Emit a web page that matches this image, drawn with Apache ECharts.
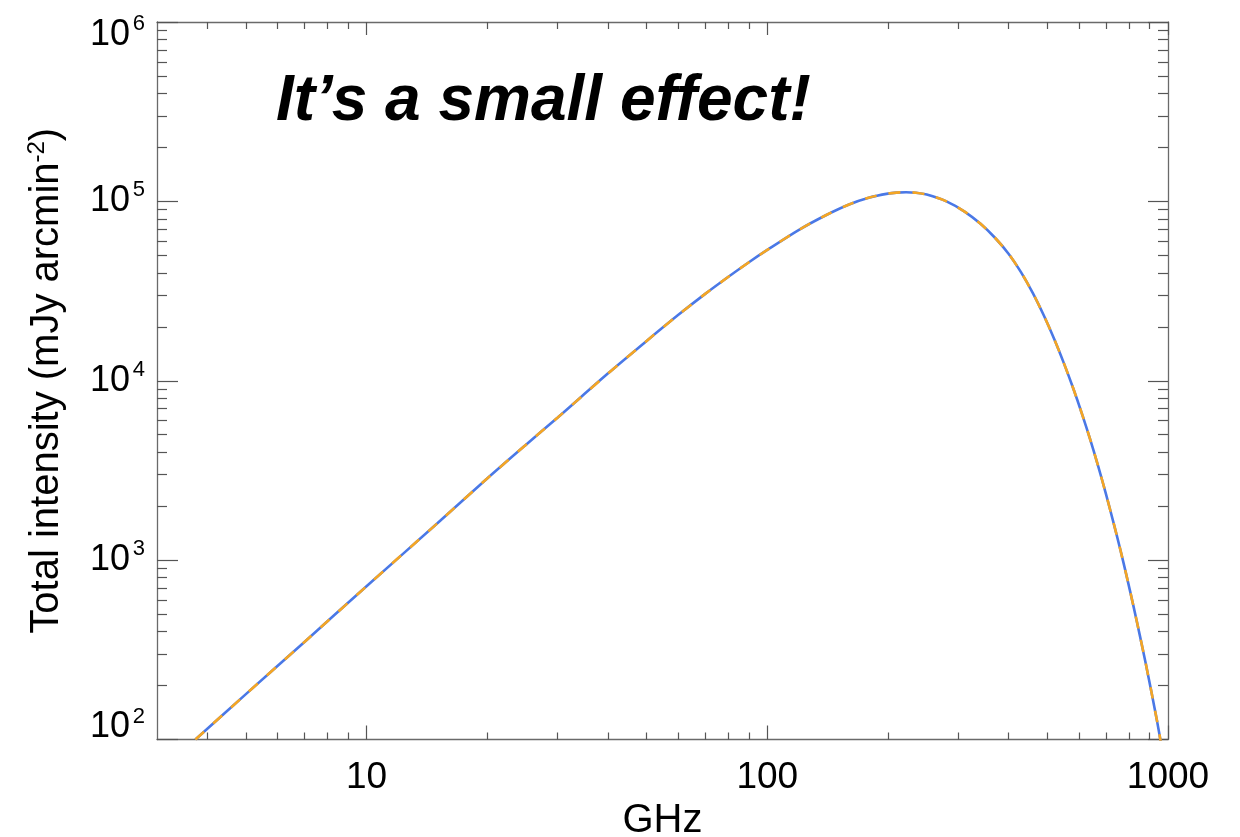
<!DOCTYPE html>
<html>
<head>
<meta charset="utf-8">
<script src="https://cdn.jsdelivr.net/npm/echarts@6/dist/echarts.min.js"></script>
<style>
html,body{margin:0;padding:0;background:#fff;overflow:hidden;}
#chart{width:1240px;height:837px;}
</style>
</head>
<body>
<div id="chart"></div>
<script>
// ---- data ----
const freqGHz = [3.74, 5, 7, 10, 15, 20, 25, 30, 40, 50, 60, 70, 80, 90, 100, 120, 140, 160, 180, 200, 210, 222, 235, 250,
  280, 310, 340, 370, 400, 430, 460, 490, 520, 550, 580, 610, 640, 670, 700, 730, 760, 790, 820, 850, 880, 910, 940, 960];
const intensityCMB = [100, 179, 350, 715, 1600, 2850, 4400, 6240, 10960, 16670, 23300, 30500, 38000, 45800, 53600, 69400, 83700, 96100, 105100, 110500, 111900, 112500, 111800, 109100,
  100000, 88000, 75200, 62700, 51100, 40200, 30800, 23100, 17100, 12500, 9080, 6540, 4680, 3320, 2340, 1640, 1150, 799, 554, 383, 265, 182, 125, 96];
const intensityCMBSZ = [100, 179, 350, 715, 1600, 2850, 4400, 6240, 10960, 16670, 23300, 30500, 38000, 45800, 53600, 69400, 83700, 96100, 105100, 110500, 111900, 112500, 111800, 109100,
  100000, 88000, 75200, 62700, 51100, 40200, 30800, 23100, 17100, 12500, 9080, 6540, 4680, 3320, 2340, 1640, 1150, 799, 554, 383, 265, 182, 125, 96];

const xMin = 3, xMax = 1000;
const yMin = 100, yMax = 1e6;
const xMajorTicks = [10, 100, 1000];
const xMinorTicks = [4,5,6,7,8,9, 20,30,40,50,60,70,80,90, 200,300,400,500,600,700,800,900];
const yMajorTicks = [100, 1000, 10000, 100000, 1000000];
const yMinorTicks = [200,300,400,500,600,700,800,900, 2000,3000,4000,5000,6000,7000,8000,9000,
  20000,30000,40000,50000,60000,70000,80000,90000, 200000,300000,400000,500000,600000,700000,800000,900000];

const titleText = 'It\u2019s a small effect!';
const xName = 'GHz';
const yName = 'Total intensity (mJy arcmin{s|-2})';

// ---- chart ----
const FONT = '"Liberation Sans", Arial, Helvetica, sans-serif';
const AX = '#6a6a6a';
const TK = '#555555';
const lg = Math.log10;

function tickAxis(kind, pos, ticks, len, showLine) {
  const isX = kind === 'x';
  return {
    type: 'value', gridIndex: 0, position: pos,
    min: isX ? lg(xMin) : lg(yMin), max: isX ? lg(xMax) : lg(yMax),
    axisLine: {show: showLine, onZero: false, lineStyle: {color: AX, width: 1.3}},
    axisLabel: {show: false},
    splitLine: {show: false},
    axisTick: {show: true, inside: true, length: len, customValues: ticks.map(lg),
      lineStyle: {color: TK, width: 1.2}},
    silent: true
  };
}
function yLabelAxis(margin, formatter, rich) {
  return {
    type: 'value', gridIndex: 0, position: 'left', min: lg(yMin), max: lg(yMax),
    axisLine: {show: false}, axisTick: {show: false}, splitLine: {show: false},
    axisLabel: {show: true, customValues: yMajorTicks.map(lg), margin: margin, verticalAlign: 'middle',
      formatter: formatter, rich: rich},
    silent: true
  };
}
// base "10" of each power label (end labels nudged inward as in the reference)
const baseStyle = {fontFamily: FONT, fontSize: 36, lineHeight: 36, color: '#000'};
const richBase = {
  b2: Object.assign({padding: [0, 0, 24, 0]}, baseStyle),
  b3: Object.assign({}, baseStyle), b4: Object.assign({}, baseStyle), b5: Object.assign({}, baseStyle),
  b6: Object.assign({padding: [26, 0, 0, 0]}, baseStyle)
};
// exponent
const expStyle = {fontFamily: FONT, fontSize: 22, lineHeight: 22, color: '#000'};
const richExp = {
  e2: Object.assign({padding: [0, 0, 46, 0]}, expStyle),
  e3: Object.assign({padding: [0, 0, 22, 0]}, expStyle),
  e4: Object.assign({padding: [0, 0, 22, 0]}, expStyle),
  e5: Object.assign({padding: [0, 0, 22, 0]}, expStyle),
  e6: Object.assign({padding: [4, 0, 0, 0]}, expStyle)
};

const chart = echarts.init(document.getElementById('chart'), null, {renderer: 'canvas', width: 1240, height: 837});
chart.setOption({
  backgroundColor: '#ffffff',
  animation: false,
  grid: {left: 157, top: 22, width: 1011, height: 717.5, containLabel: false, outerBoundsMode: 'none'},
  graphic: [{
    type: 'text', left: 276, top: 70,
    style: {text: titleText, fontFamily: FONT, fontSize: 64, fontWeight: 'bold', fontStyle: 'italic', fill: '#000'}
  }],
  xAxis: [
    {type: 'log', logBase: 10, gridIndex: 0, position: 'bottom', min: xMin, max: xMax,
      axisLine: {show: true, onZero: false, lineStyle: {color: AX, width: 1.3}},
      axisTick: {show: false}, axisLabel: {show: false}, splitLine: {show: false}},
    Object.assign(tickAxis('x', 'bottom', xMajorTicks, 14, false), {
      axisLabel: {show: true, customValues: xMajorTicks.map(lg), margin: 20,
        formatter: v => String(Math.round(Math.pow(10, v))),
        fontFamily: FONT, fontSize: 37, color: '#000'},
      name: xName, nameLocation: 'middle', nameGap: 56,
      nameTextStyle: {fontFamily: FONT, fontSize: 40, color: '#000'}
    }),
    tickAxis('x', 'bottom', xMinorTicks, 7, false),
    tickAxis('x', 'top', xMajorTicks, 13, true),
    tickAxis('x', 'top', xMinorTicks, 7, false)
  ],
  yAxis: [
    {type: 'log', logBase: 10, gridIndex: 0, position: 'left', min: yMin, max: yMax,
      axisLine: {show: true, onZero: false, lineStyle: {color: AX, width: 1.3}},
      axisTick: {show: false}, axisLabel: {show: false}, splitLine: {show: false}},
    Object.assign(tickAxis('y', 'left', yMajorTicks, 21, false), {
      name: yName, nameLocation: 'middle', nameGap: 88,
      nameTextStyle: {fontFamily: FONT, fontSize: 40, color: '#000', lineHeight: 44,
        rich: {s: {fontFamily: FONT, fontSize: 24, lineHeight: 18, verticalAlign: 'top', color: '#000'}}}
    }),
    tickAxis('y', 'left', yMinorTicks, 10, false),
    tickAxis('y', 'right', yMajorTicks, 20, true),
    tickAxis('y', 'right', yMinorTicks, 10, false),
    yLabelAxis(27, v => '{b' + Math.round(v) + '|10}', richBase),
    yLabelAxis(12, v => '{e' + Math.round(v) + '|' + Math.round(v) + '}', richExp)
  ],
  series: [
    {type: 'line', name: 'CMB', xAxisIndex: 0, yAxisIndex: 0,
      data: freqGHz.map((f, i) => [f, intensityCMB[i]]),
      showSymbol: false, smooth: 0.3, clip: true,
      lineStyle: {color: '#4a78e6', width: 2.6}, z: 2},
    {type: 'line', name: 'CMB + SZ', xAxisIndex: 0, yAxisIndex: 0,
      data: freqGHz.map((f, i) => [f, intensityCMBSZ[i]]),
      showSymbol: false, smooth: 0.3, clip: true,
      lineStyle: {color: '#f5a623', width: 2.6, type: [12, 12]}, z: 3}
  ]
});
</script>
</body>
</html>
